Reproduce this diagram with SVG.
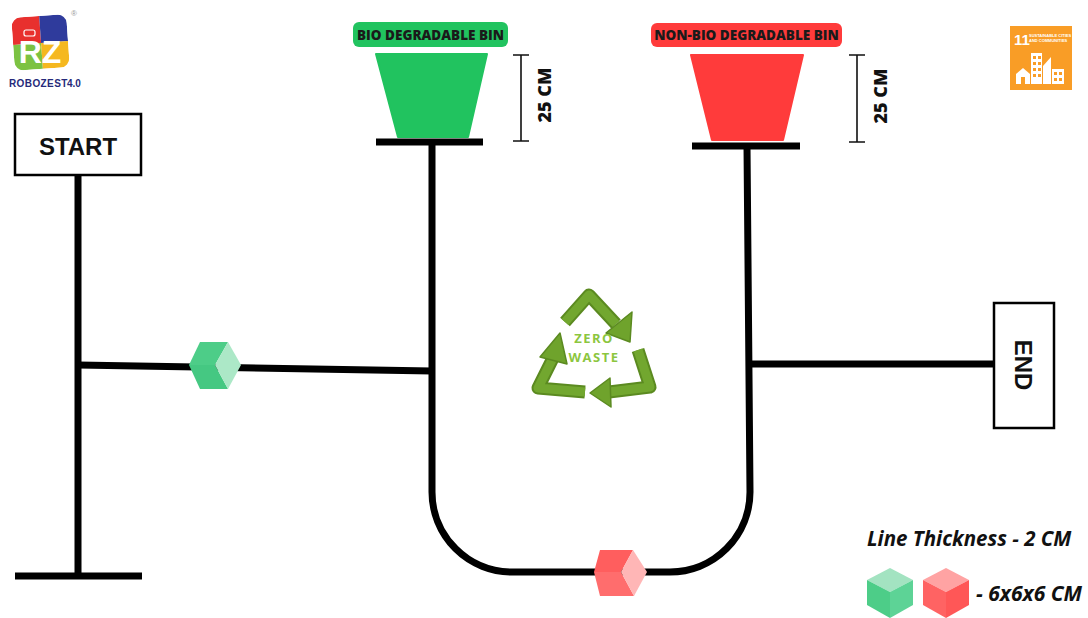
<svg xmlns="http://www.w3.org/2000/svg" width="1088" height="618" viewBox="0 0 1088 618">
  <defs>
    <style>
      .track { fill: none; stroke: #000; stroke-width: 7; stroke-linecap: butt; stroke-linejoin: round; }
      .box { fill: #fff; stroke: #000; stroke-width: 2.5; }
      .boxtext { font-family: "Liberation Sans", Arial, sans-serif; font-weight: 700; font-size: 24px; fill: #111; text-anchor: middle; }
      .binlabel { font-family: "Open Sans", "Liberation Sans", sans-serif; font-weight: 800; font-size: 13.5px; fill: #1a1a1a; text-anchor: middle; }
      .dim { fill: none; stroke: #111; stroke-width: 1.6; }
      .dimtext { font-family: "Open Sans", "Liberation Sans", sans-serif; font-weight: 800; font-size: 18px; fill: #111; text-anchor: middle; }
      .legend { font-family: "Open Sans", "Liberation Sans", sans-serif; font-weight: 700; font-style: italic; fill: #111; }
      .rec { fill: none; stroke: #5b8a20; stroke-width: 13; stroke-linejoin: round; }
      .recin { fill: none; stroke: #72a72f; stroke-width: 9; stroke-linejoin: round; }
      .rechead { fill: #6fa32c; stroke: #5b8a20; stroke-width: 1.5; stroke-linejoin: round; }
      .zw { font-family: "Open Sans", "Liberation Sans", sans-serif; font-weight: 700; font-size: 13px; fill: #8cc63f; text-anchor: middle; letter-spacing: 1.5px; }
    </style>
  </defs>

  <rect width="1088" height="618" fill="#fff"/>

  <!-- logo -->
  <g id="logo">
    <g transform="rotate(-4 40 42)">
      <clipPath id="logoClip"><rect x="13" y="16" width="55" height="53" rx="9"/></clipPath>
      <g clip-path="url(#logoClip)">
        <rect x="13" y="16" width="28" height="27" fill="#e8302e"/>
        <rect x="41" y="16" width="27" height="27" fill="#2f3b9c"/>
        <rect x="13" y="43" width="28" height="26" fill="#7cc242"/>
        <rect x="41" y="43" width="27" height="26" fill="#f5b820"/>
      </g>
    </g>
    <text x="40" y="63" font-family="Liberation Sans, Arial, sans-serif" font-weight="700" font-size="32" fill="#fff" text-anchor="middle">RZ</text>
    <rect x="24" y="30" width="11" height="6" rx="2" fill="#e8302e" stroke="#fff" stroke-width="1.2"/>
    <text x="74" y="16" font-family="Liberation Sans, Arial, sans-serif" font-size="8" fill="#999" text-anchor="middle">®</text>
    <text x="9" y="87" font-family="Liberation Sans, Arial, sans-serif" font-weight="700" font-size="10" fill="#262a7a" letter-spacing="0.4">ROBOZEST</text>
    <text x="67" y="87" font-family="Liberation Sans, Arial, sans-serif" font-weight="700" font-size="10" fill="#262a7a">4.0</text>
  </g>

  <!-- SDG 11 badge -->
  <g id="sdg11">
    <rect x="1010" y="26" width="62" height="64" fill="#f99d26"/>
    <text x="1014" y="45" font-family="Liberation Sans, Arial, sans-serif" font-weight="700" font-size="15" fill="#fff">11</text>
    <text x="1029" y="37" font-family="Liberation Sans, Arial, sans-serif" font-weight="700" font-size="4" fill="#fff">SUSTAINABLE CITIES</text>
    <text x="1029" y="42" font-family="Liberation Sans, Arial, sans-serif" font-weight="700" font-size="4" fill="#fff">AND COMMUNITIES</text>
    <g fill="#fff">
      <rect x="1031" y="53" width="11" height="31"/>
      <path d="M1043 84 V66 L1051 57 V84 Z"/>
      <rect x="1052" y="69" width="12" height="15"/>
      <path d="M1016 84 V74 L1023 68 L1030 74 V84 Z"/>
    </g>
    <g fill="#f99d26">
      <rect x="1033" y="56" width="3" height="3"/><rect x="1038" y="56" width="3" height="3"/>
      <rect x="1033" y="62" width="3" height="3"/><rect x="1038" y="62" width="3" height="3"/>
      <rect x="1033" y="68" width="3" height="3"/><rect x="1038" y="68" width="3" height="3"/>
      <rect x="1033" y="74" width="3" height="3"/><rect x="1038" y="74" width="3" height="3"/>
      <rect x="1054" y="72" width="3" height="3"/><rect x="1059" y="72" width="3" height="3"/>
      <rect x="1054" y="78" width="3" height="3"/><rect x="1059" y="78" width="3" height="3"/>
      <rect x="1021" y="77" width="4" height="7"/>
    </g>
  </g>

  <!-- track lines -->
  <g id="connectors">
    <path class="track" d="M78 175 V576"/>
    <path class="track" d="M15 576 H142"/>
    <path class="track" d="M78 365 L432 371"/>
    <path class="track" d="M432 142 V492 A80 80 0 0 0 512 572 H670 A80 80 0 0 0 750 492 L747 146"/>
    <path class="track" d="M750 364 H994"/>
  </g>

  <!-- start sign -->
  <g id="start">
    <rect class="box" x="15" y="114" width="126" height="61"/>
    <text class="boxtext" x="78" y="155">START</text>
  </g>

  <!-- end sign -->
  <g id="end">
    <rect class="box" x="994" y="303" width="60" height="125"/>
    <text class="boxtext" transform="translate(1015 365) rotate(90)" x="0" y="0">END</text>
  </g>

  <!-- biodegradable bin -->
  <g id="bio-bin">
    <rect x="353" y="22" width="155" height="25" rx="6" fill="#21c35f"/>
    <text class="binlabel" x="430.5" y="39.5">BIO DEGRADABLE BIN</text>
    <path d="M376 54 H487 L468 137 H398 Z" fill="#21c35f" stroke="#21c35f" stroke-width="2" stroke-linejoin="round"/>
    <rect x="376" y="138.5" width="107" height="7" fill="#000"/>
    <path class="dim" d="M521 55 V141 M513 55 H529 M513 141 H529"/>
    <text class="dimtext" transform="translate(551 95) rotate(-90)" x="0" y="0">25 CM</text>
  </g>

  <!-- non-biodegradable bin -->
  <g id="nonbio-bin">
    <rect x="651" y="23" width="191" height="24" rx="6" fill="#ff3b3b"/>
    <text class="binlabel" x="746.5" y="40">NON-BIO DEGRADABLE BIN</text>
    <path d="M691 55 H803 L783 140 H712 Z" fill="#ff3b3b" stroke="#ff3b3b" stroke-width="2" stroke-linejoin="round"/>
    <rect x="692" y="142.5" width="108" height="7" fill="#000"/>
    <path class="dim" d="M857 55 V142 M849 55 H865 M849 142 H865"/>
    <text class="dimtext" transform="translate(887 96) rotate(-90)" x="0" y="0">25 CM</text>
  </g>

  <!-- zero waste recycling emblem -->
  <g id="zero-waste">
    <path class="rec" d="M565 322 L589 295 L616 324"/>
    <path class="recin" d="M565 322 L589 295 L616 324"/>
    <polygon class="rechead" points="606,333 632,312 630,342"/>
    <path class="rec" d="M638 350 L650 387 L609 392"/>
    <path class="recin" d="M638 350 L650 387 L609 392"/>
    <polygon class="rechead" points="610,378 590,393 611,407"/>
    <path class="rec" d="M585 392 L538 388 L553 358"/>
    <path class="recin" d="M585 392 L538 388 L553 358"/>
    <polygon class="rechead" points="540,357 560,333 567,364"/>
    <text class="zw" x="594" y="343">ZERO</text>
    <text class="zw" x="594" y="362">WASTE</text>
  </g>

  <!-- green block on the track -->
  <g id="green-block">
    <polygon points="200,342 228,342 215,365 189,365" fill="#4dcd88"/>
    <polygon points="189,365 215,365 228,389 200,389" fill="#45c882"/>
    <polygon points="228,342 241,365 228,389 215,365" fill="#ace8c7"/>
  </g>

  <!-- red block on the track -->
  <g id="red-block">
    <polygon points="600,550 633,550 621,572 594,572" fill="#ff5e5e"/>
    <polygon points="594,572 621,572 634,596 600,596" fill="#ff6d6d"/>
    <polygon points="633,550 647,572 634,596 621,572" fill="#ffb6b6"/>
  </g>

  <!-- legend -->
  <g id="legend">
    <text class="legend" x="867" y="546" font-size="20.5">Line Thickness - 2 CM</text>
    <polygon points="890,568 913,580 890,592 867,580" fill="#a3e3c1"/>
    <polygon points="867,580 890,592 890,618 867,605" fill="#4dcd88"/>
    <polygon points="913,580 890,592 890,618 913,605" fill="#5dd396"/>
    <polygon points="946,568 969,580 946,592 923,580" fill="#ffa3a3"/>
    <polygon points="923,580 946,592 946,618 923,605" fill="#ff6363"/>
    <polygon points="969,580 946,592 946,618 969,605" fill="#ff5757"/>
    <text class="legend" x="976" y="601" font-size="21">- 6x6x6 CM</text>
  </g>
</svg>
